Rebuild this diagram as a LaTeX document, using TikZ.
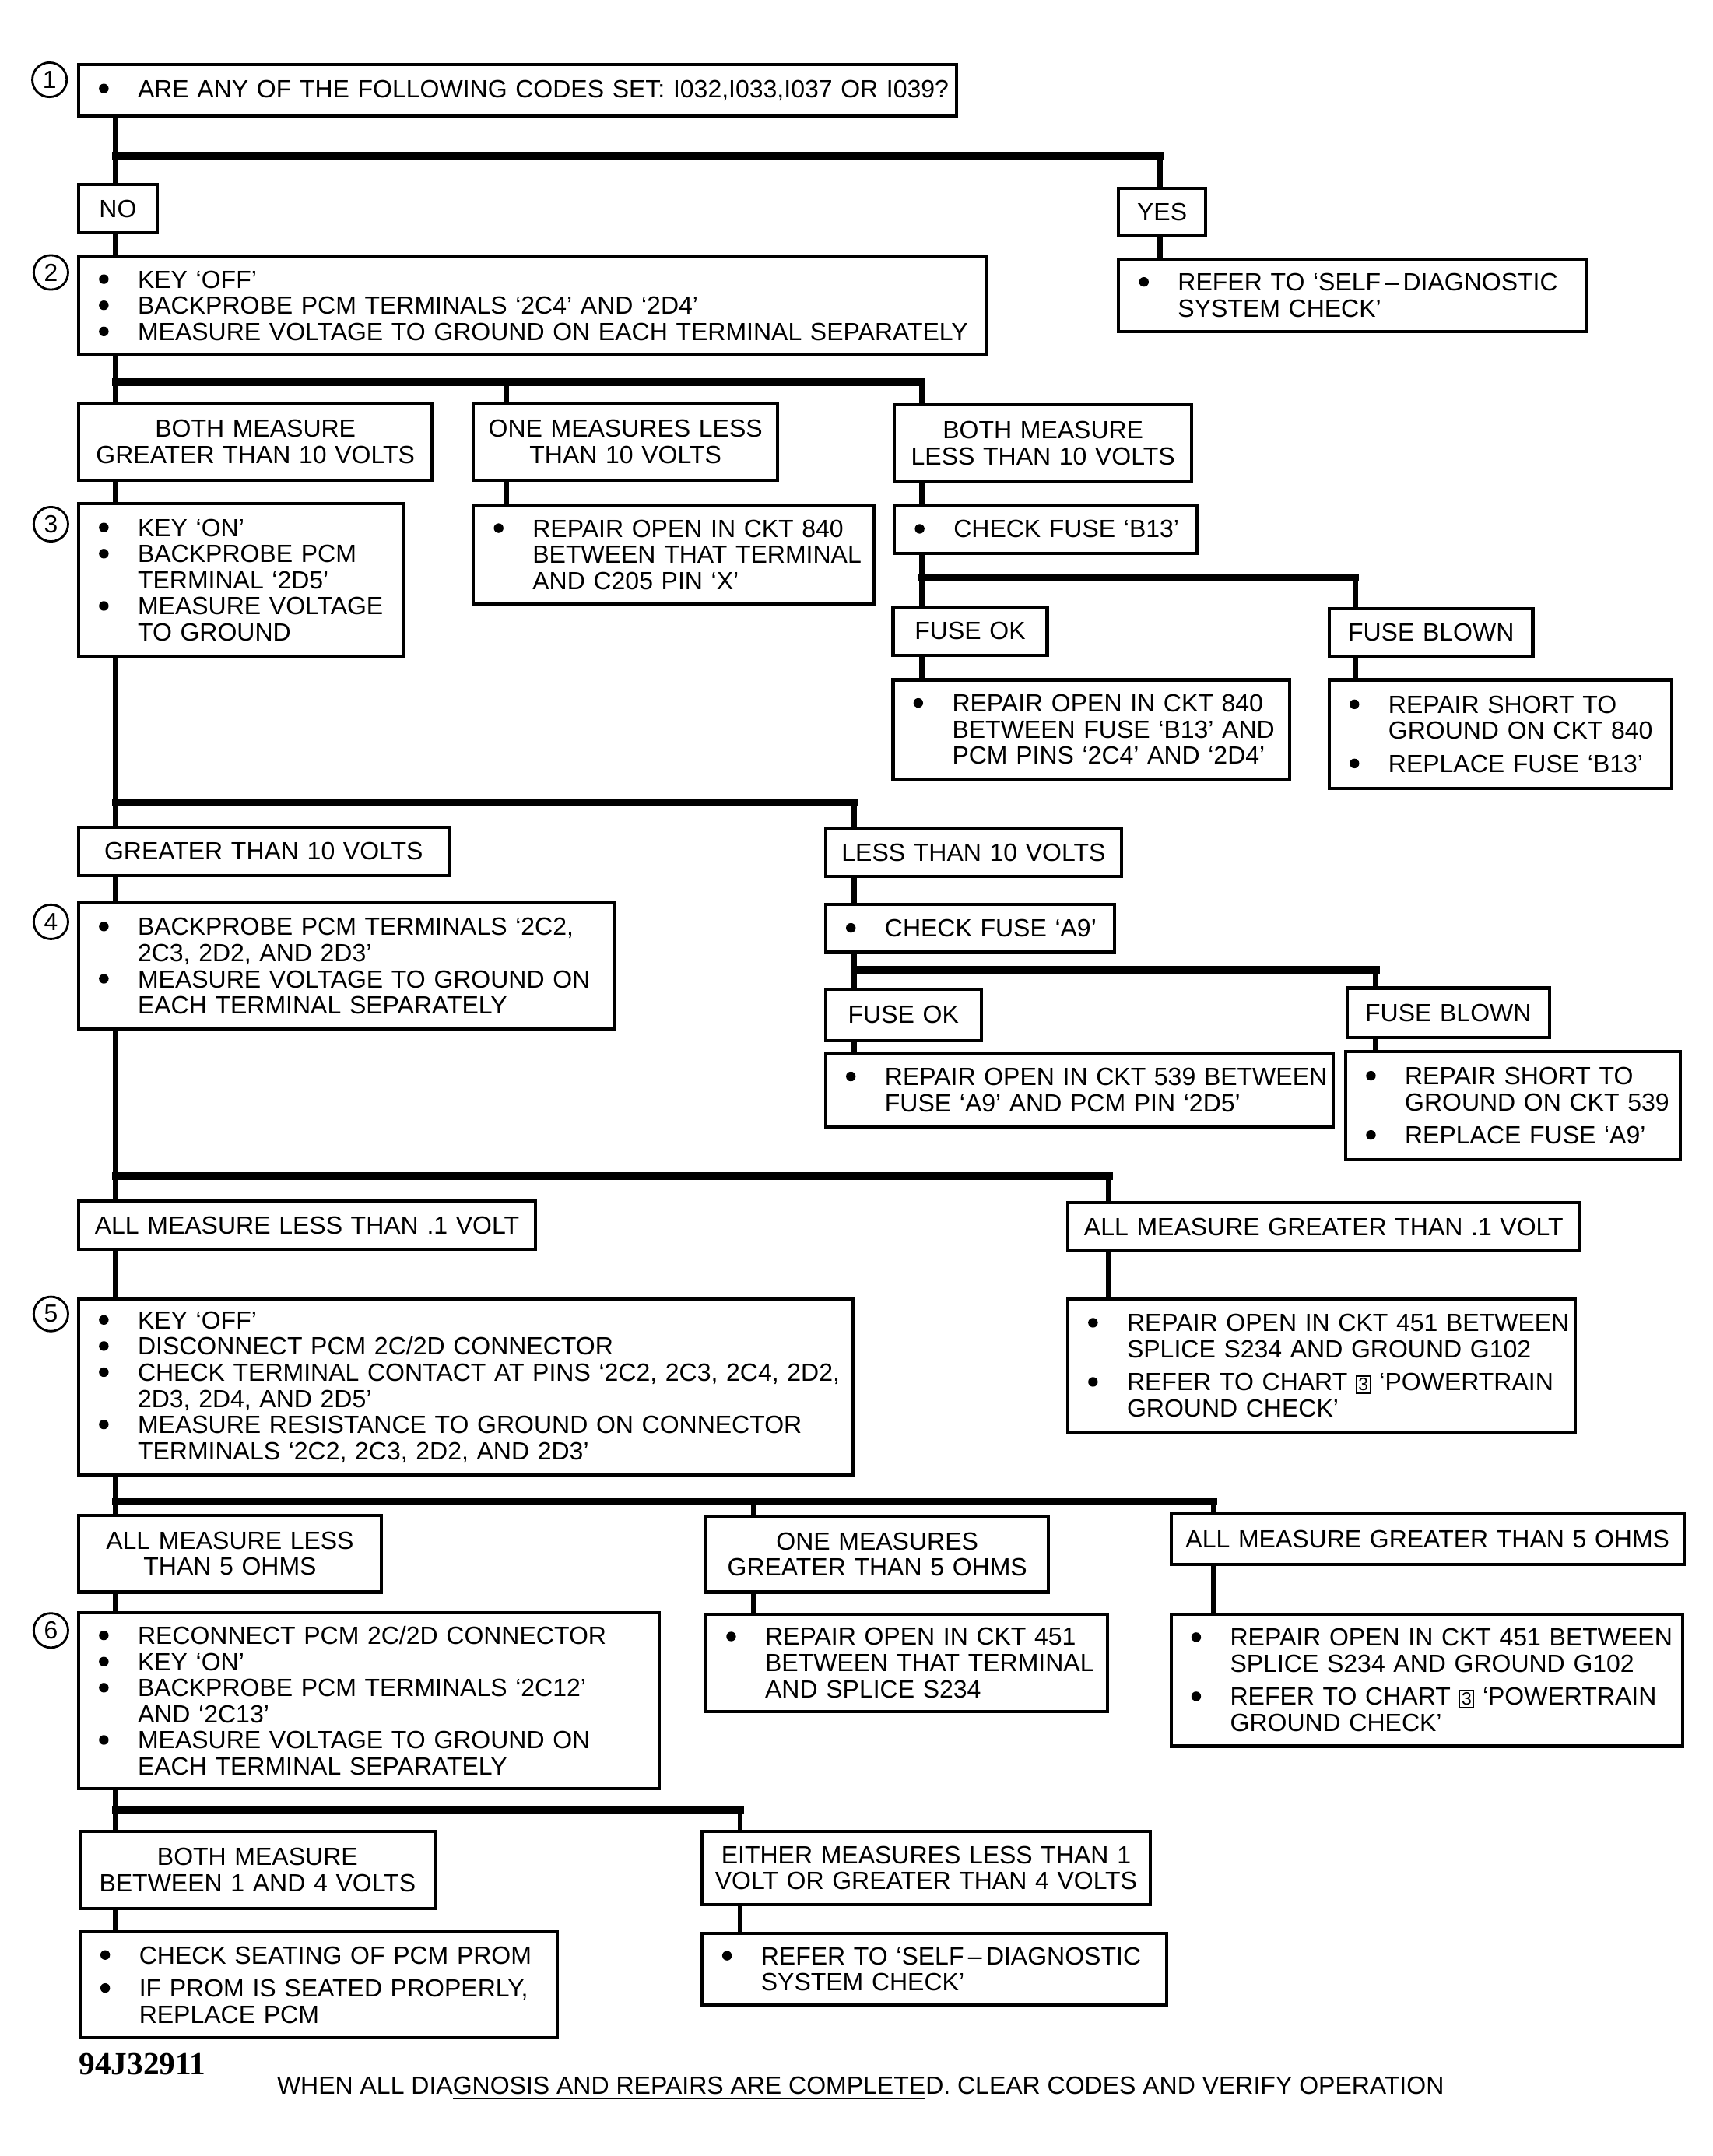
\documentclass[tikz,border=0pt]{standalone}
\usepackage{fontspec}
\setmainfont{Liberation Sans}
\newfontfamily\codefont{Liberation Serif}
\usetikzlibrary{backgrounds}
\newcommand\dotmark{\tikz[baseline=0pt]\fill (1.75pt,3.25pt) circle[radius=1.75pt];}
\newcommand\B[1]{\mbox{\makebox[14.5pt][l]{\hspace{0.4pt}\dotmark}#1}}
\newcommand\C[1]{\mbox{\hspace{14.5pt}#1}}
\newcommand\chartnum{{\fboxsep=0.5pt\fboxrule=0.5pt\fbox{\fontsize{6.5pt}{7pt}\selectfont 3}}}
\tikzset{
  sz/.code n args={2}{%
    \pgfmathsetmacro\tmpw{#1*0.5}\pgfmathsetmacro\tmph{#2*0.5}\pgfmathsetmacro\tmpt{#1*0.5-14}%
    \edef\tmpx{\noexpand\pgfkeysalso{minimum width=\tmpw pt,minimum height=\tmph pt,text width=\tmpt pt}}\tmpx},
  csz/.code n args={2}{%
    \pgfmathsetmacro\tmpw{#1*0.5}\pgfmathsetmacro\tmph{#2*0.5}\pgfmathsetmacro\tmpt{#1*0.5-4}%
    \edef\tmpx{\noexpand\pgfkeysalso{minimum width=\tmpw pt,minimum height=\tmph pt,text width=\tmpt pt}}\tmpx},
  box/.style={draw, line width=1.15pt, fill=white, anchor=north west, inner ysep=1pt,
    inner xsep=7pt, align=left, font=\fontsize{9.05pt}{9.5pt}\selectfont},
  cbox/.style={box, inner xsep=2pt, align=center},
  circ/.style={draw, circle, line width=0.8pt, minimum size=12.5pt, inner sep=0pt,
    font=\fontsize{9pt}{9pt}\selectfont},
  vline/.style={line width=1.9pt, line cap=rect},
  hbar/.style={line width=2.8pt, line cap=rect},
}
\begin{document}
\begin{tikzpicture}[x=0.5pt,y=-0.5pt]
\useasboundingbox (0,0) rectangle (1245,1567);
% step numbers
\node[circ] (c1) at (36,58) {1};
\node[circ] (c2) at (37,198) {2};
\node[circ] (c3) at (37,381) {3};
\node[circ] (c4) at (37,670) {4};
\node[circ] (c5) at (37,955) {5};
\node[circ] (c6) at (37,1185) {6};
% boxes
\node[box, sz={638}{37}] (b1) at (56,46) {\B{ARE ANY OF THE FOLLOWING CODES SET: I032,I033,I037 OR I039?}};
\node[cbox, csz={57}{35}] (no) at (56,133) {NO};
\node[cbox, csz={63}{34}] (yes) at (812,136) {YES};
\node[box, sz={340}{53}] (yr) at (812,187) {\B{REFER TO ‘SELF\,–\,DIAGNOSTIC}\\\C{SYSTEM CHECK’}};
\node[box, sz={660}{72}] (b2) at (56,185) {\B{KEY ‘OFF’}\\\B{BACKPROBE PCM TERMINALS ‘2C4’ AND ‘2D4’}\\\B{MEASURE VOLTAGE TO GROUND ON EACH TERMINAL SEPARATELY}};
\node[cbox, csz={257}{56}] (m1) at (56,292) {BOTH MEASURE\\GREATER THAN 10 VOLTS};
\node[cbox, csz={221}{56}] (m2) at (343,292) {ONE MEASURES LESS\\THAN 10 VOLTS};
\node[cbox, csz={216}{56}] (m3) at (649,293) {BOTH MEASURE\\LESS THAN 10 VOLTS};
\node[box, sz={236}{111}] (b3) at (56,365) {\B{KEY ‘ON’}\\\B{BACKPROBE PCM}\\\C{TERMINAL ‘2D5’}\\\B{MEASURE VOLTAGE}\\\C{TO GROUND}};
\node[box, sz={291}{72}] (r2) at (343,366) {\B{REPAIR OPEN IN CKT 840}\\\C{BETWEEN THAT TERMINAL}\\\C{AND C205 PIN ‘X’}};
\node[box, sz={220}{35}] (f13) at (649,366) {\B{CHECK FUSE ‘B13’}};
\node[cbox, csz={112}{35}] (ok1) at (648,440) {FUSE OK};
\node[cbox, csz={148}{35}] (bl1) at (965,441) {FUSE BLOWN};
\node[box, sz={288}{72}] (r3) at (648,493) {\B{REPAIR OPEN IN CKT 840}\\\C{BETWEEN FUSE ‘B13’ AND}\\\C{PCM PINS ‘2C4’ AND ‘2D4’}};
\node[box, sz={249}{79}] (r4) at (965,493) {\B{REPAIR SHORT TO}\\\C{GROUND ON CKT 840}\\[2.5pt]\B{REPLACE FUSE ‘B13’}};
\node[cbox, csz={269}{35}] (gt) at (56,600) {GREATER THAN 10 VOLTS};
\node[cbox, csz={215}{35}] (lt) at (599,601) {LESS THAN 10 VOLTS};
\node[box, sz={389}{92}] (b4) at (56,655) {\B{BACKPROBE PCM TERMINALS ‘2C2,}\\\C{2C3, 2D2, AND 2D3’}\\\B{MEASURE VOLTAGE TO GROUND ON}\\\C{EACH TERMINAL SEPARATELY}};
\node[box, sz={210}{35}] (fa9) at (599,656) {\B{CHECK FUSE ‘A9’}};
\node[cbox, csz={113}{37}] (ok2) at (599,718) {FUSE OK};
\node[cbox, csz={147}{36}] (bl2) at (978,717) {FUSE BLOWN};
\node[box, sz={369}{54}] (r5) at (599,764) {\B{REPAIR OPEN IN CKT 539 BETWEEN}\\\C{FUSE ‘A9’ AND PCM PIN ‘2D5’}};
\node[box, sz={243}{79}] (r6) at (977,763) {\B{REPAIR SHORT TO}\\\C{GROUND ON CKT 539}\\[2.5pt]\B{REPLACE FUSE ‘A9’}};
\node[cbox, csz={332}{35}] (lv) at (56,872) {ALL MEASURE LESS THAN .1 VOLT};
\node[cbox, csz={372}{35}] (gv) at (775,873) {ALL MEASURE GREATER THAN .1 VOLT};
\node[box, sz={563}{128}] (b5) at (56,943) {\B{KEY ‘OFF’}\\\B{DISCONNECT PCM 2C/2D CONNECTOR}\\\B{CHECK TERMINAL CONTACT AT PINS ‘2C2, 2C3, 2C4, 2D2,}\\\C{2D3, 2D4, AND 2D5’}\\\B{MEASURE RESISTANCE TO GROUND ON CONNECTOR}\\\C{TERMINALS ‘2C2, 2C3, 2D2, AND 2D3’}};
\node[box, sz={369}{97}] (r7) at (775,943) {\B{REPAIR OPEN IN CKT 451 BETWEEN}\\\C{SPLICE S234 AND GROUND G102}\\[2.5pt]\B{REFER TO CHART \chartnum{} ‘POWERTRAIN}\\\C{GROUND CHECK’}};
\node[cbox, csz={220}{56}] (l5) at (56,1100) {ALL MEASURE LESS\\THAN 5 OHMS};
\node[cbox, csz={249}{55}] (o5) at (512,1101) {ONE MEASURES\\GREATER THAN 5 OHMS};
\node[cbox, csz={373}{37}] (g5) at (850,1099) {ALL MEASURE GREATER THAN 5 OHMS};
\node[box, sz={422}{128}] (b6) at (56,1171) {\B{RECONNECT PCM 2C/2D CONNECTOR}\\\B{KEY ‘ON’}\\\B{BACKPROBE PCM TERMINALS ‘2C12’}\\\C{AND ‘2C13’}\\\B{MEASURE VOLTAGE TO GROUND ON}\\\C{EACH TERMINAL SEPARATELY}};
\node[box, sz={292}{71}] (r8) at (512,1172) {\B{REPAIR OPEN IN CKT 451}\\\C{BETWEEN THAT TERMINAL}\\\C{AND SPLICE S234}};
\node[box, sz={372}{96}] (r9) at (850,1172) {\B{REPAIR OPEN IN CKT 451 BETWEEN}\\\C{SPLICE S234 AND GROUND G102}\\[2.5pt]\B{REFER TO CHART \chartnum{} ‘POWERTRAIN}\\\C{GROUND CHECK’}};
\node[cbox, csz={258}{56}] (w14) at (57,1330) {BOTH MEASURE\\BETWEEN 1 AND 4 VOLTS};
\node[cbox, csz={326}{53}] (ei) at (509,1330) {EITHER MEASURES LESS THAN 1\\VOLT OR GREATER THAN 4 VOLTS};
\node[box, sz={347}{77}] (r10) at (57,1403) {\B{CHECK SEATING OF PCM PROM}\\[2.5pt]\B{IF PROM IS SEATED PROPERLY,}\\\C{REPLACE PCM}};
\node[box, sz={338}{52}] (r11) at (509,1404) {\B{REFER TO ‘SELF\,–\,DIAGNOSTIC}\\\C{SYSTEM CHECK’}};
% footer
\node[anchor=west, inner sep=0pt, font=\codefont\bfseries\fontsize{11.7pt}{12pt}\selectfont] (code) at (57,1500) {94J32911};
\node[anchor=west, inner sep=0pt, font=\fontsize{9.05pt}{9.5pt}\selectfont] (note) at (201,1518) {WHEN ALL DIA\underline{GNOSIS AND REPAIRS ARE COMPLETE}D. CLEAR CODES AND VERIFY OPERATION};
% connector coordinates
\coordinate (t) at (84,0);
\coordinate (j1) at (84,113);
\coordinate (j2) at (84,278);
\coordinate (j3) at (670,420);
\coordinate (j4) at (84,583);
\coordinate (j5) at (621,705);
\coordinate (j6) at (84,855);
\coordinate (j7) at (84,1091);
\coordinate (j8) at (84,1315);
\coordinate (x843) at (843,0);
\coordinate (x368) at (368,0);
\coordinate (x670) at (670,0);
\coordinate (x985) at (985,0);
\coordinate (x621) at (621,0);
\coordinate (x1000) at (1000,0);
\coordinate (x806) at (806,0);
\coordinate (x548) at (548,0);
\coordinate (x882) at (882,0);
\coordinate (x538) at (538,0);
\begin{scope}[on background layer]
% step 1
\draw[vline] (b1.south -| t) -- (no.north -| t);
\draw[hbar] (j1) -- (j1 -| x843);
\draw[vline] (j1 -| x843) -- (yes.north -| x843);
\draw[vline] (yes.south -| x843) -- (yr.north -| x843);
\draw[vline] (no.south -| t) -- (b2.north -| t);
% step 2
\draw[vline] (b2.south -| t) -- (m1.north -| t);
\draw[hbar] (j2) -- (j2 -| x670);
\draw[vline] (j2 -| x368) -- (m2.north -| x368);
\draw[vline] (j2 -| x670) -- (m3.north -| x670);
\draw[vline] (m1.south -| t) -- (b3.north -| t);
\draw[vline] (m2.south -| x368) -- (r2.north -| x368);
\draw[vline] (m3.south -| x670) -- (f13.north -| x670);
\draw[vline] (f13.south -| x670) -- (ok1.north -| x670);
\draw[hbar] (j3) -- (j3 -| x985);
\draw[vline] (j3 -| x985) -- (bl1.north -| x985);
\draw[vline] (ok1.south -| x670) -- (r3.north -| x670);
\draw[vline] (bl1.south -| x985) -- (r4.north -| x985);
% step 3
\draw[vline] (b3.south -| t) -- (gt.north -| t);
\draw[hbar] (j4) -- (j4 -| x621);
\draw[vline] (j4 -| x621) -- (lt.north -| x621);
\draw[vline] (gt.south -| t) -- (b4.north -| t);
\draw[vline] (lt.south -| x621) -- (fa9.north -| x621);
\draw[vline] (fa9.south -| x621) -- (ok2.north -| x621);
\draw[hbar] (j5) -- (j5 -| x1000);
\draw[vline] (j5 -| x1000) -- (bl2.north -| x1000);
\draw[vline] (ok2.south -| x621) -- (r5.north -| x621);
\draw[vline] (bl2.south -| x1000) -- (r6.north -| x1000);
% step 4
\draw[vline] (b4.south -| t) -- (lv.north -| t);
\draw[hbar] (j6) -- (j6 -| x806);
\draw[vline] (j6 -| x806) -- (gv.north -| x806);
\draw[vline] (lv.south -| t) -- (b5.north -| t);
\draw[vline] (gv.south -| x806) -- (r7.north -| x806);
% step 5
\draw[vline] (b5.south -| t) -- (l5.north -| t);
\draw[hbar] (j7) -- (j7 -| x882);
\draw[vline] (j7 -| x548) -- (o5.north -| x548);
\draw[vline] (j7 -| x882) -- (g5.north -| x882);
\draw[vline] (l5.south -| t) -- (b6.north -| t);
\draw[vline] (o5.south -| x548) -- (r8.north -| x548);
\draw[vline] (g5.south -| x882) -- (r9.north -| x882);
% step 6
\draw[vline] (b6.south -| t) -- (w14.north -| t);
\draw[hbar] (j8) -- (j8 -| x538);
\draw[vline] (j8 -| x538) -- (ei.north -| x538);
\draw[vline] (w14.south -| t) -- (r10.north -| t);
\draw[vline] (ei.south -| x538) -- (r11.north -| x538);
\end{scope}
\end{tikzpicture}
\end{document}
